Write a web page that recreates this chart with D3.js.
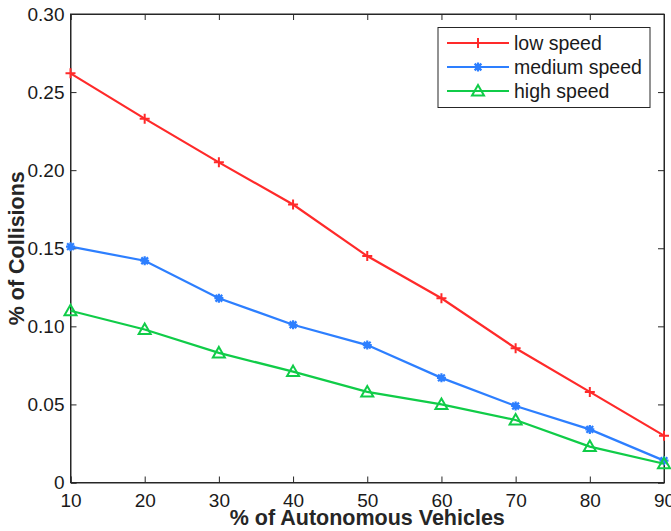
<!DOCTYPE html>
<html><head><meta charset="utf-8">
<script src="https://cdn.jsdelivr.net/npm/d3@7"></script>
<style>body{margin:0;background:#fff}svg{display:block}</style>
</head><body>
<svg id="c" width="671" height="531"></svg>
<script>
const xValues = [10, 20, 30, 40, 50, 60, 70, 80, 90];
const lowSpeed = [0.262, 0.233, 0.205, 0.178, 0.145, 0.118, 0.086, 0.058, 0.030];
const mediumSpeed = [0.151, 0.142, 0.118, 0.101, 0.088, 0.067, 0.049, 0.034, 0.014];
const highSpeed = [0.110, 0.098, 0.083, 0.071, 0.058, 0.050, 0.040, 0.023, 0.012];
const seriesNames = ["low speed", "medium speed", "high speed"];
const yTicks = [0, 0.05, 0.10, 0.15, 0.20, 0.25, 0.30];
const yTickLabels = ["0", "0.05", "0.10", "0.15", "0.20", "0.25", "0.30"];
const xTicks = [10, 20, 30, 40, 50, 60, 70, 80, 90];

const series = [
  {name: seriesNames[0], values: lowSpeed, color: "#ff2a2a", marker: "plus"},
  {name: seriesNames[1], values: mediumSpeed, color: "#2d7fff", marker: "star"},
  {name: seriesNames[2], values: highSpeed, color: "#10cc48", marker: "tri"}
];

const svg = d3.select("#c");
const L = 70.5, R = 664, T = 14, B = 482.5;
const x = d3.scaleLinear().domain([10, 90]).range([L, R]);
const y = d3.scaleLinear().domain([0, 0.30]).range([B, T]);
const font = "'Liberation Sans', Arial, Helvetica, sans-serif";
const axisColor = "#262626";

// box
svg.append("rect").attr("x", L).attr("y", T).attr("width", R - L).attr("height", B - T)
  .attr("fill", "none").attr("stroke", axisColor).attr("stroke-width", 1);

// axes
const gx = svg.append("g").attr("transform", `translate(0,${B})`)
  .call(d3.axisBottom(x).tickValues(xTicks).tickSize(-6).tickPadding(11).tickFormat(d3.format("d")));
const gxTop = svg.append("g").attr("transform", `translate(0,${T})`)
  .call(d3.axisTop(x).tickValues(xTicks).tickSize(-6).tickFormat(""));
const gy = svg.append("g").attr("transform", `translate(${L},0)`)
  .call(d3.axisLeft(y).tickValues(yTicks).tickSize(-6).tickPadding(6).tickFormat((d, i) => yTickLabels[i]));
const gyR = svg.append("g").attr("transform", `translate(${R},0)`)
  .call(d3.axisRight(y).tickValues(yTicks).tickSize(-6).tickFormat(""));
[gx, gxTop, gy, gyR].forEach(g => {
  g.select(".domain").attr("stroke", axisColor);
  g.selectAll(".tick line").attr("stroke", axisColor);
  g.selectAll("text").attr("font-family", font).attr("font-size", 19).attr("fill", "#1a1a1a");
});

// lines
const line = d3.line().x((d, i) => x(xValues[i])).y(d => y(d));

function drawMarker(g, type, cx, cy, color) {
  if (type === "plus") {
    g.append("path").attr("d", `M${cx-5},${cy}H${cx+5}M${cx},${cy-5}V${cy+5}`)
      .attr("stroke", color).attr("stroke-width", 2).attr("fill", "none");
  } else if (type === "star") {
    const s = 4.5;
    g.append("path").attr("d", `M${cx-s},${cy}H${cx+s}M${cx},${cy-s}V${cy+s}M${cx-s*0.75},${cy-s*0.75}L${cx+s*0.75},${cy+s*0.75}M${cx-s*0.75},${cy+s*0.75}L${cx+s*0.75},${cy-s*0.75}`)
      .attr("stroke", color).attr("stroke-width", 2.2).attr("fill", "none");
    g.append("circle").attr("cx", cx).attr("cy", cy).attr("r", 2.8).attr("fill", color);
  } else {
    const h = 6;
    g.append("path").attr("d", `M${cx},${cy-h}L${cx+h},${cy+h*0.75}L${cx-h},${cy+h*0.75}Z`)
      .attr("stroke", color).attr("stroke-width", 2).attr("fill", "none");
  }
}

const plot = svg.append("g");
series.forEach(s => {
  plot.append("path").datum(s.values).attr("d", line)
    .attr("fill", "none").attr("stroke", s.color).attr("stroke-width", 2.2);
  const mg = plot.append("g");
  s.values.forEach((v, i) => drawMarker(mg, s.marker, x(xValues[i]), y(v), s.color));
});

// axis titles
svg.append("text").attr("x", (L + R) / 2).attr("y", 525).attr("text-anchor", "middle")
  .attr("font-family", font).attr("font-weight", "bold").attr("font-size", 21.5).attr("fill", "#262626")
  .text("% of Autonomous Vehicles");
svg.append("text").attr("transform", `translate(24,${(T + B) / 2}) rotate(-90)`).attr("text-anchor", "middle")
  .attr("font-family", font).attr("font-weight", "bold").attr("font-size", 21.5).attr("fill", "#262626")
  .text("% of Collisions");

// legend
const lg = svg.append("g");
lg.append("rect").attr("x", 438).attr("y", 27.5).attr("width", 212).attr("height", 80)
  .attr("fill", "#fff").attr("stroke", axisColor).attr("stroke-width", 1);
series.forEach((s, i) => {
  const ly = 43 + i * 24;
  lg.append("line").attr("x1", 447).attr("x2", 509).attr("y1", ly).attr("y2", ly)
    .attr("stroke", s.color).attr("stroke-width", 2.2);
  drawMarker(lg, s.marker, 478, ly, s.color);
  lg.append("text").attr("x", 514).attr("y", ly + 6.5).attr("font-family", font).attr("font-size", 19.5)
    .attr("fill", "#1a1a1a").text(s.name);
});
</script>
</body></html>
